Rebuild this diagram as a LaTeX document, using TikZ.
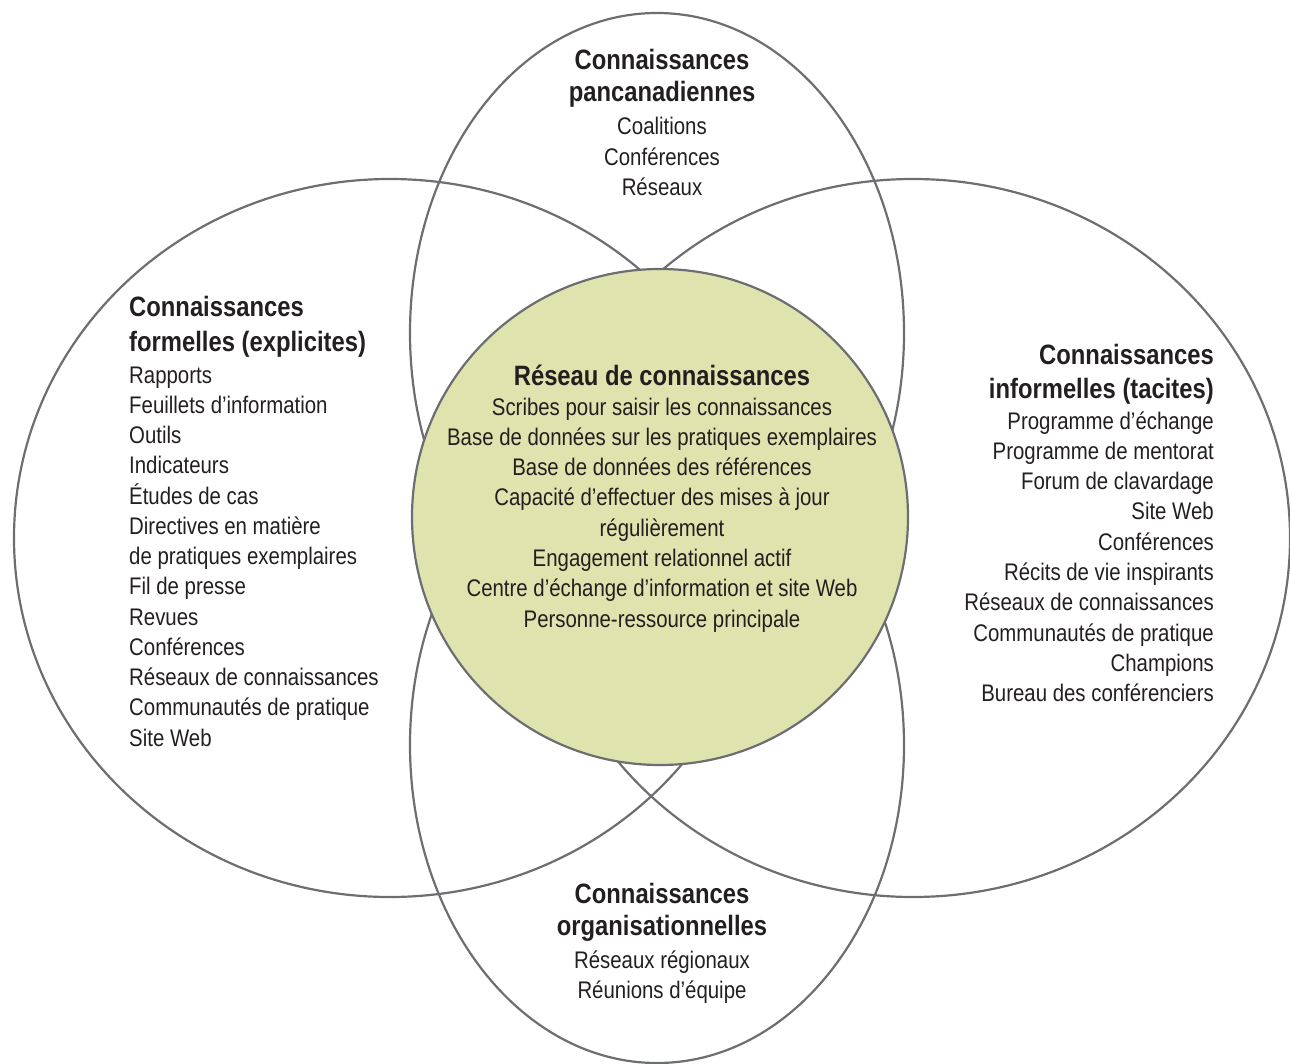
\documentclass[tikz,border=0pt]{standalone}
\usepackage{fontspec}
\setmainfont[FakeStretch=0.85]{Liberation Sans}
\definecolor{edge}{RGB}{109,110,113}
\definecolor{core}{RGB}{223,228,174}
\definecolor{ink}{RGB}{35,31,32}
\begin{document}
\begin{tikzpicture}[x=1pt,y=-1pt,
  ring/.style={draw=edge,line width=2.2pt},
  head/.style={font=\fontsize{28}{34}\selectfont\bfseries,text=ink,inner sep=0pt},
  item/.style={font=\fontsize{24}{30}\selectfont,text=ink,inner sep=0pt}]
\useasboundingbox (0,0) rectangle (1290,1064);
% ellipses
\draw[ring] (657,333) ellipse [x radius=247pt, y radius=320pt];
\draw[ring] (657,745) ellipse [x radius=247pt, y radius=318pt];
\draw[ring] (390,538) ellipse [x radius=376pt, y radius=359pt];
\draw[ring] (913,538) ellipse [x radius=377pt, y radius=359pt];
% centre circle
\node[ring,fill=core,circle,minimum size=496pt,inner sep=0pt] (core) at (660,517) {};
% top
\node[head,anchor=base] (th1) at (662,70) {Connaissances};
\node[head,anchor=base] (th2) at (662,102) {pancanadiennes};
\foreach \t [count=\i] in {Coalitions,Conférences,Réseaux}
  \node[item,anchor=base] (ti\i) at (662,{135+30.5*(\i-1)}) {\t};
% bottom
\node[head,anchor=base] (bh1) at (662,903) {Connaissances};
\node[head,anchor=base] (bh2) at (662,935) {organisationnelles};
\foreach \t [count=\i] in {Réseaux régionaux,Réunions d’équipe}
  \node[item,anchor=base] (bi\i) at (662,{968+30*(\i-1)}) {\t};
% left
\node[head,anchor=base west] (lh1) at (129,317) {Connaissances};
\node[head,anchor=base west] (lh2) at (129,352) {formelles (explicites)};
\foreach \t [count=\i] in {Rapports,Feuillets d’information,Outils,Indicateurs,Études de cas,Directives en matière,de pratiques exemplaires,Fil de presse,Revues,Conférences,Réseaux de connaissances,Communautés de pratique,Site Web}
  \node[item,anchor=base west] (li\i) at (129,{383+30.25*(\i-1)}) {\t};
% right
\node[head,anchor=base east] (rh1) at (1214,364) {Connaissances};
\node[head,anchor=base east] (rh2) at (1214,398) {informelles (tacites)};
\foreach \t [count=\i] in {Programme d’échange,Programme de mentorat,Forum de clavardage,Site Web,Conférences,Récits de vie inspirants,Réseaux de connaissances,Communautés de pratique,Champions,Bureau des conférenciers}
  \node[item,anchor=base east] (ri\i) at (1214,{429+30.3*(\i-1)}) {\t};
% centre
\node[head,anchor=base] (ch1) at (662,385) {Réseau de connaissances};
\foreach \t [count=\i] in {Scribes pour saisir les connaissances,Base de données sur les pratiques exemplaires,Base de données des références,Capacité d’effectuer des mises à jour,régulièrement,Engagement relationnel actif,Centre d’échange d’information et site Web,Personne-ressource principale}
  \node[item,anchor=base] (ci\i) at (662,{415+30.3*(\i-1)}) {\t};
\end{tikzpicture}
\end{document}
